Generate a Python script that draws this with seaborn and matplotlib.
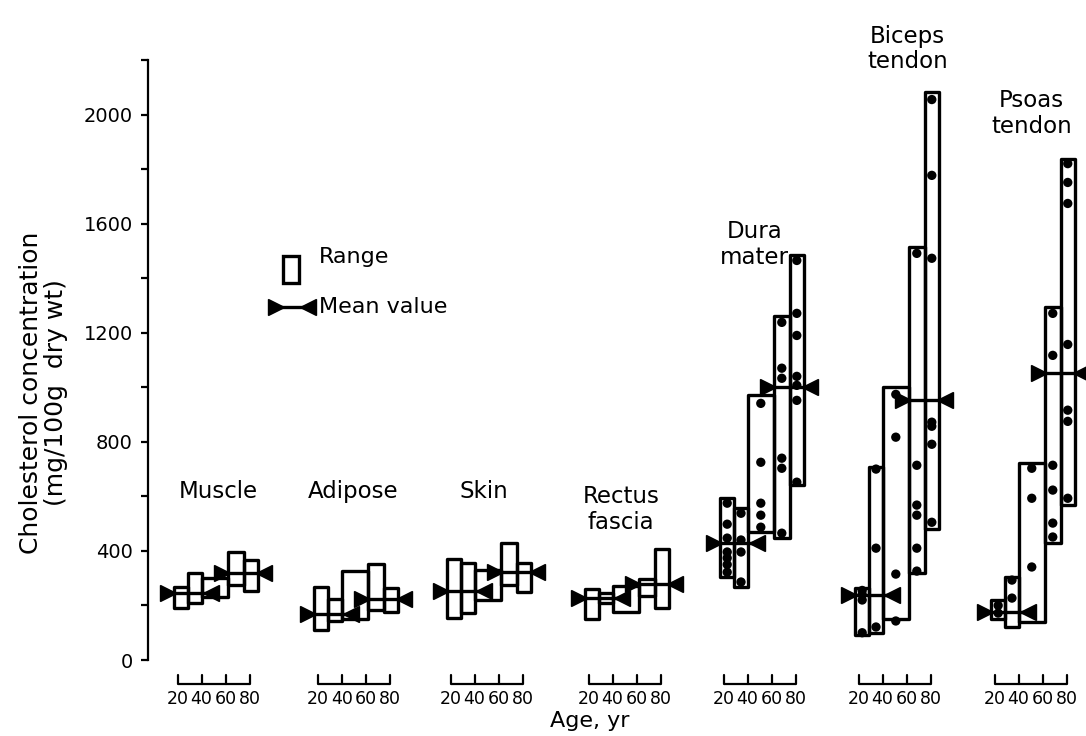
import numpy as np
import pandas as pd
import matplotlib.pyplot as plt
import seaborn as sns

# tissues, left to right
tissues = ["Muscle", "Adipose", "Skin", "Rectus\nfascia", "Dura\nmater", "Biceps\ntendon", "Psoas\ntendon"]
# age bins (yr) used for the range boxes
age_edges = [17, 29, 40, 62, 75, 87]
age_ticks = [20, 40, 60, 80]

# range of cholesterol per age bin (mg/100 g dry wt)
range_low = [
    [190, 209, 231, 275, 253],
    [110, 143, 150, 183, 176],
    [154, 172, 220, 275, 249],
    [150, 209, 176, 234, 190],
    [304, 267, 469, 447, 641],
    [90, 100, 150, 320, 480],
    [150, 120, 140, 429, 568],
]
range_high = [
    [267, 319, 300, 396, 366],
    [267, 223, 326, 352, 264],
    [370, 355, 330, 429, 355],
    [260, 245, 271, 297, 407],
    [593, 557, 971, 1260, 1484],
    [265, 707, 1000, 1516, 2084],
    [220, 304, 722, 1293, 1838],
]
# mean values, younger and older subjects
mean_young = [245, 168, 253, 227, 428, 240, 175]
mean_old = [318, 223, 322, 280, 1000, 955, 1051]

# individual values shown for the tendons and dura mater (per age bin)
dura_points = [
    [575, 498, 447, 396, 374, 350, 322],
    [538, 440, 396, 286],
    [941, 725, 575, 531, 487],
    [1238, 1070, 1033, 740, 703, 465],
    [1465, 1271, 1190, 1040, 1007, 952, 652],
]
biceps_points = [
    [255, 240, 220, 100],
    [700, 410, 121],
    [974, 817, 315, 143],
    [1491, 714, 568, 531, 410, 326],
    [2055, 1777, 1473, 872, 857, 791, 505],
]
psoas_points = [
    [172, 200],
    [293, 227],
    [703, 593, 341],
    [1271, 1117, 714, 623, 502, 451],
    [1820, 1751, 1674, 1157, 916, 875, 593],
]
points_by_tissue = {4: dura_points, 5: biceps_points, 6: psoas_points}

# layout
group_offset = [0, 116.7, 227.5, 342.5, 455, 567.5, 680.8]
label_x = [53.7, 49.5, 48, 47, 46, 61, 51]
label_y = [619, 619, 619, 553, 1524, 2240, 2004]

sns.set_style("ticks", {"text.color": "black", "axes.labelcolor": "black",
                        "xtick.color": "black", "ytick.color": "black",
                        "axes.edgecolor": "black"})
plt.rcParams["font.family"] = ["DejaVu Sans"]

fig = plt.figure(figsize=(10.86, 7.36), dpi=100)
ax = fig.add_axes([148 / 1086, 76 / 736, 938 / 1086, 600 / 736])

lw = 2.4
edges = np.array(age_edges, dtype=float)
widths = np.diff(edges)
centers = edges[:-1] + widths / 2

rows = []
for g, name in enumerate(tissues):
    off = group_offset[g]
    lo = np.array(range_low[g])
    hi = np.array(range_high[g])
    ax.bar(edges[:-1] + off, hi - lo, width=widths, bottom=lo, align="edge",
           fill=False, edgecolor="black", linewidth=lw, joinstyle="round", zorder=2)
    # mean value bow-ties
    for (a0, a1), m in (((12, 48), mean_young[g]), ((57, 92), mean_old[g])):
        ax.plot([a0 + off, a1 + off], [m, m], color="black", lw=lw, zorder=3)
        ax.plot([a0 + off], [m], marker=">", color="black", ms=11, zorder=4)
        ax.plot([a1 + off], [m], marker="<", color="black", ms=11, zorder=4)
    if g in points_by_tissue:
        for b, vals in enumerate(points_by_tissue[g]):
            for v in vals:
                rows.append({"x": centers[b] + off, "y": v})
    ax.text(label_x[g] + off, label_y[g], name, ha="center", va="center",
            fontsize=16.5, linespacing=1.15, clip_on=False)
    # small age axis under each tissue
    ax.plot([age_ticks[0] + off, age_ticks[-1] + off], [-88, -88], color="black",
            lw=1.6, clip_on=False, solid_capstyle="butt")
    for t in age_ticks:
        ax.plot([t + off, t + off], [-88, -55], color="black", lw=1.6, clip_on=False)

pts = pd.DataFrame(rows)
sns.scatterplot(data=pts, x="x", y="y", ax=ax, color="black", s=45,
                edgecolor="none", zorder=5, legend=False)

ax.set_xlim(-4.67, 777)
ax.set_ylim(0, 2200)
ax.set_xticks([t + off for off in group_offset for t in age_ticks])
ax.set_xticklabels([str(t) for off in group_offset for t in age_ticks], fontsize=12.5)
ax.tick_params(axis="x", length=0, pad=21.5)
ax.set_yticks(np.arange(0, 2001, 400))
ax.set_yticks(np.arange(200, 2201, 400), minor=True)
ax.tick_params(axis="y", which="both", length=5, width=1.6, direction="out", pad=6,
               labelsize=14)
sns.despine(ax=ax, bottom=True)
ax.spines["left"].set_linewidth(1.6)

ax.set_ylabel("Cholesterol concentration\n(mg/100g  dry wt)", fontsize=18, linespacing=1.05)
ax.yaxis.set_label_coords(-0.085, 0.445)
ax.set_xlabel("Age, yr", fontsize=16)
ax.xaxis.set_label_coords(0.471, -0.085)

# key
ax.bar([0.144], [0.045], width=0.017, bottom=0.628, align="edge", fill=False,
       edgecolor="black", linewidth=lw, transform=ax.transAxes, clip_on=False)
ax.text(0.182, 0.672, "Range", transform=ax.transAxes, fontsize=16, va="center")
ax.plot([0.136, 0.171], [0.588, 0.588], color="black", lw=lw, transform=ax.transAxes)
ax.plot([0.136], [0.588], marker=">", color="black", ms=11, transform=ax.transAxes)
ax.plot([0.171], [0.588], marker="<", color="black", ms=11, transform=ax.transAxes)
ax.text(0.182, 0.588, "Mean value", transform=ax.transAxes, fontsize=16, va="center")

fig.savefig("out.png", dpi=100)
